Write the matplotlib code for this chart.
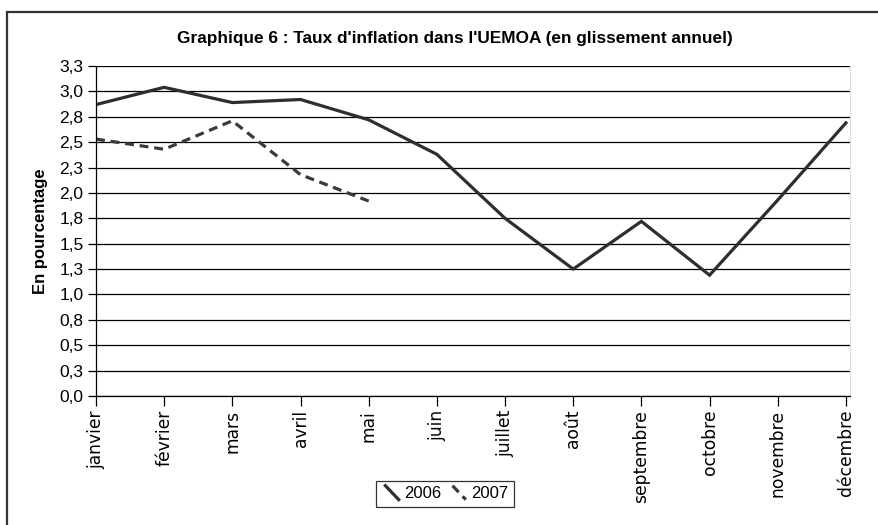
import matplotlib
matplotlib.use("Agg")
import matplotlib.pyplot as plt
from matplotlib.patches import Rectangle
from matplotlib.legend_handler import HandlerLine2D

months = ["janvier", "février", "mars", "avril", "mai", "juin", "juillet",
          "août", "septembre", "octobre", "novembre", "décembre"]
infl_2006 = [2.87, 3.04, 2.89, 2.92, 2.72, 2.38, 1.75, 1.25, 1.72, 1.19,
             1.93, 2.69]
infl_2007 = [2.53, 2.43, 2.71, 2.18, 1.92]
yticks = [0.0, 0.25, 0.5, 0.75, 1.0, 1.25, 1.5, 1.75, 2.0, 2.25, 2.5,
          2.75, 3.0, 3.25]
ytick_labels = ["0,0", "0,3", "0,5", "0,8", "1,0", "1,3", "1,5", "1,8",
                "2,0", "2,3", "2,5", "2,8", "3,0", "3,3"]

plt.rcParams["font.family"] = ["Liberation Sans", "DejaVu Sans"]


class DiagHandler(HandlerLine2D):
    # legend keys drawn as a short diagonal stroke
    def create_artists(self, legend, orig_handle, xdescent, ydescent,
                       width, height, fontsize, trans):
        line = matplotlib.lines.Line2D([0.2 * width, width],
                                       [height * 1.1, -0.1 * height])
        self.update_prop(line, orig_handle, legend)
        line.set_transform(trans)
        return [line]


fig = plt.figure(figsize=(8.79, 5.25), dpi=100)
ax = fig.add_axes([96 / 879, 1 - 396 / 525, 754 / 879, 330 / 525])

x = list(range(len(months)))
ax.plot(x, infl_2006, color="#2e2e2e", lw=2.3, label="2006",
        solid_joinstyle="miter")
ax.plot(x[:len(infl_2007)], infl_2007, color="#3a3a3a", lw=2.3,
        dashes=(2.8, 1.8), label="2007")

ax.set_xlim(0, 11.06)
ax.set_ylim(0, 3.25)
ax.set_yticks(yticks)
ax.set_yticklabels(ytick_labels, fontsize=12.5)
ax.set_xticks(x)
ax.set_xticklabels(months, rotation=90, fontsize=12.3, va="top",
                   family=["DejaVu Sans"])
ax.yaxis.grid(True, color="black", lw=0.9)
ax.set_axisbelow(True)
ax.tick_params(axis="y", direction="out", length=6, width=0.9, pad=3)
ax.tick_params(axis="x", direction="out", length=7, width=0.9, pad=3)
ax.spines["top"].set_visible(False)
ax.spines["right"].set_color("#dddddd")
ax.spines["left"].set_linewidth(0.9)
ax.spines["bottom"].set_linewidth(0.9)
ax.set_ylabel("En pourcentage", fontsize=12, fontweight="bold",
              labelpad=8)

fig.text(455 / 879, 1 - 38 / 525,
         "Graphique 6 : Taux d'inflation dans l'UEMOA (en glissement annuel)",
         ha="center", va="center", fontsize=12.4, fontweight="bold")

leg = fig.legend(loc="center", bbox_to_anchor=(445 / 879, 1 - 494 / 525),
                 ncol=2, fontsize=12, frameon=True, fancybox=False,
                 handlelength=1.0, handletextpad=0.3, columnspacing=0.5,
                 borderpad=0.35, handler_map={matplotlib.lines.Line2D:
                                              DiagHandler()})
leg.get_frame().set_edgecolor("black")
leg.get_frame().set_linewidth(0.9)

fig.patches.append(Rectangle((7 / 879, -0.05), 1.1, 1 - 12 / 525 + 0.05,
                             transform=fig.transFigure, fill=False,
                             edgecolor="#333333", lw=1.6))

fig.savefig("out.png", dpi=100)
